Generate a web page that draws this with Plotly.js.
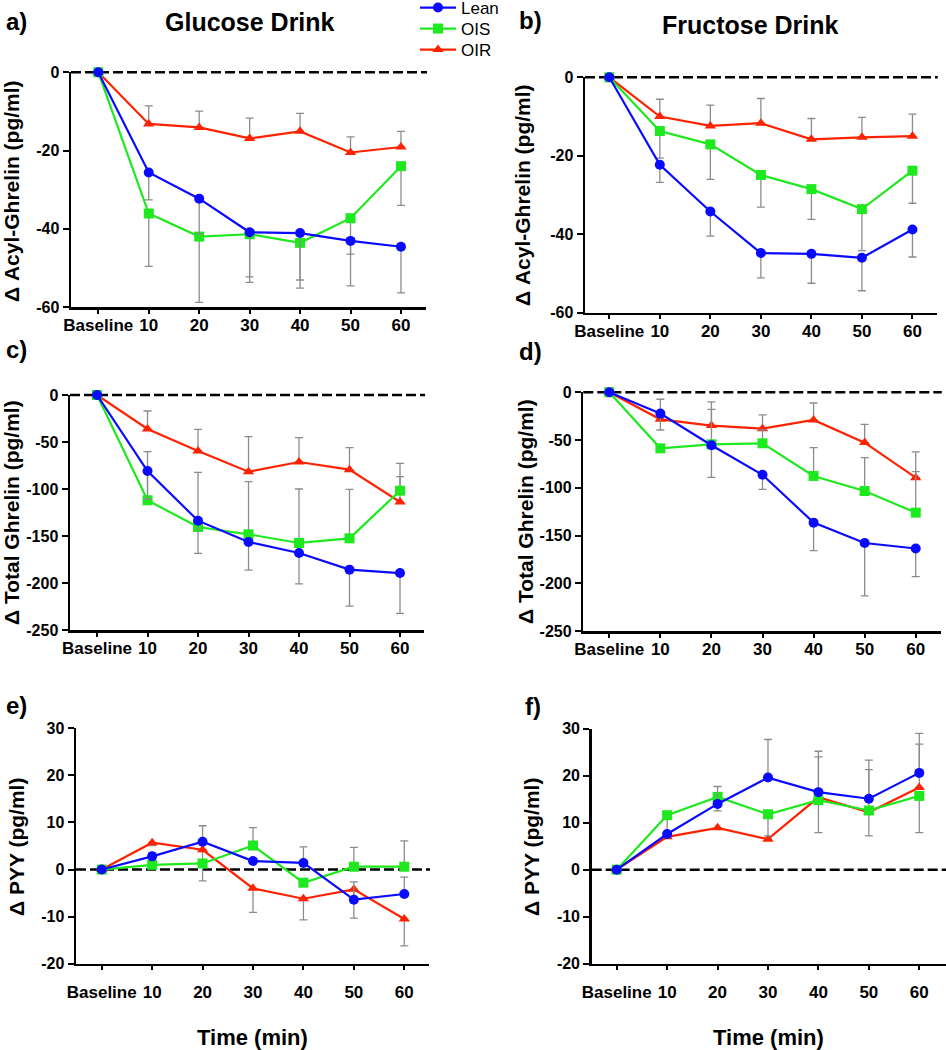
<!DOCTYPE html>
<html>
<head>
<meta charset="utf-8">
<script src="https://cdn.plot.ly/plotly-3.0.1.min.js"></script>
<style>html,body{margin:0;padding:0;background:#fff;}#chart{width:946px;height:1050px;}</style>
</head>
<body>
<div id="chart"></div>
<script>
// ---------------- DATA ----------------
const categories = ['Baseline', '10', '20', '30', '40', '50', '60'];
const seriesNames = ['Lean', 'OIS', 'OIR'];

// a) Glucose drink, delta acyl-ghrelin
const aLean = [0, -25.6, -32.3, -40.9, -41.1, -43.1, -44.6];
const aLeanUp = [0, 0, 0, 0, 0, 0, 0];
const aLeanDn = [0, 7.0, 9.0, 11.4, 12.0, 11.5, 11.8];
const aOIS = [0, -36.1, -42.0, -41.4, -43.6, -37.3, -24.0];
const aOISUp = [0, 0, 0, 0, 0, 0, 0];
const aOISDn = [0, 13.5, 16.8, 12.3, 11.6, 9.2, 10.0];
const aOIR = [0, -13.2, -14.1, -16.9, -15.1, -20.5, -19.1];
const aOIRUp = [0, 4.6, 4.2, 5.2, 4.6, 4.0, 4.0];
const aOIRDn = [0, 0, 0, 0, 0, 0, 0];

// b) Fructose drink, delta acyl-ghrelin
const bLean = [0, -22.3, -34.2, -44.8, -45.0, -46.0, -38.8];
const bLeanUp = [0, 0, 0, 0, 0, 0, 0];
const bLeanDn = [0, 4.5, 6.3, 6.3, 7.5, 8.4, 7.0];
const bOIS = [0, -13.7, -17.1, -24.9, -28.5, -33.6, -23.8];
const bOISUp = [0, 0, 0, 0, 0, 0, 0];
const bOISDn = [0, 6.9, 8.9, 8.2, 7.7, 10.6, 8.3];
const bOIR = [0, -10.0, -12.4, -11.7, -15.8, -15.3, -15.0];
const bOIRUp = [0, 4.4, 5.3, 6.3, 5.3, 5.1, 5.6];
const bOIRDn = [0, 0, 0, 0, 0, 0, 0];

// c) Glucose drink, delta total ghrelin
const cLean = [0, -80.9, -133.7, -156.4, -168.1, -185.8, -189.4];
const cLeanUp = [0, 0, 0, 0, 0, 0, 0];
const cLeanDn = [0, 30, 34.7, 29.8, 32.9, 38.7, 42.9];
const cOIS = [0, -112, -140.4, -148.2, -157.4, -152.5, -101.8];
const cOISUp = [0, 51.7, 58.1, 56, 57.4, 52.1, 14.9];
const cOISDn = [0, 0, 0, 0, 0, 0, 0];
const cOIR = [0, -36.2, -59.6, -81.6, -71.3, -79.4, -113.8];
const cOIRUp = [0, 19.2, 23.1, 37.3, 25.9, 23.4, 41.1];
const cOIRDn = [0, 0, 0, 0, 0, 0, 0];

// d) Fructose drink, delta total ghrelin
const dLean = [0, -22.3, -55.5, -86.4, -136.5, -157.8, -163.6];
const dLeanUp = [0, 0, 0, 0, 0, 0, 0];
const dLeanDn = [0, 17.2, 33.5, 15.2, 29.4, 55.5, 29.4];
const dOIS = [0, -58.7, -54.5, -53.4, -87.6, -103.4, -126];
const dOISUp = [0, 0, 36.7, 14, 29.6, 35, 42.9];
const dOISDn = [0, 0, 0, 0, 0, 0, 0];
const dOIR = [0, -28.3, -34.9, -38.1, -29, -52.7, -89.4];
const dOIRUp = [0, 21, 24.8, 14.4, 17.8, 19.2, 26.9];
const dOIRDn = [0, 0, 0, 0, 0, 0, 0];

// e) Glucose drink, delta PYY
const eLean = [0, 2.8, 5.9, 1.8, 1.4, -6.4, -5.2];
const eLeanUp = [0, 0.8, 3.4, 0, 3.4, 3.8, 3.6];
const eLeanDn = [0, 0, 0, 0, 0, 0, 0];
const eOIS = [0, 1.0, 1.3, 5.1, -2.8, 0.6, 0.6];
const eOISUp = [0, 0, 0, 3.8, 0, 4.1, 5.5];
const eOISDn = [0, 0, 0, 0, 0, 0, 0];
const eOIR = [0, 5.7, 4.2, -4.0, -6.2, -4.2, -10.5];
const eOIRUp = [0, 0, 0, 0, 0, 0, 0];
const eOIRDn = [0, 0.6, 6.6, 5.1, 4.5, 6.1, 5.7];

// f) Fructose drink, delta PYY
const fLean = [0, 7.6, 14.0, 19.6, 16.5, 15.1, 20.6];
const fLeanUp = [0, 0, 3.7, 8.1, 8.7, 8.2, 8.4];
const fLeanDn = [0, 0, 0, 0, 0, 0, 0];
const fOIS = [0, 11.6, 15.5, 11.8, 14.8, 12.6, 15.7];
const fOISUp = [0, 0, 0, 0, 0, 0, 0];
const fOISDn = [0, 3.8, 3.0, 4.6, 6.9, 5.4, 7.8];
const fOIR = [0, 7.0, 8.9, 6.5, 15.4, 12.2, 17.5];
const fOIRUp = [0, 0, 0, 0, 8.6, 9.1, 9.2];
const fOIRDn = [0, 0, 0, 0, 0, 0, 0];

// tick labels
const ghrelinAcylTicks = [-60, -40, -20, 0];
const ghrelinAcylTickText = ['-60', '-40', '-20', '0'];
const ghrelinTotalTicks = [-250, -200, -150, -100, -50, 0];
const ghrelinTotalTickText = ['-250', '-200', '-150', '-100', '-50', '0'];
const pyyTicks = [-20, -10, 0, 10, 20, 30];
const pyyTickText = ['-20', '-10', '0', '10', '20', '30'];

const drinkTitles = ['Glucose Drink', 'Fructose Drink'];
const yTitles = ['\u0394 Acyl-Ghrelin (pg/ml)', '\u0394 Total Ghrelin (pg/ml)', '\u0394 PYY (pg/ml)'];
const xTitle = 'Time (min)';
const panelLetters = ['a)', 'b)', 'c)', 'd)', 'e)', 'f)'];
const referenceValue = 0;

// ---------------- LAYOUT HELPERS ----------------
const W = 946, H = 1050;
const FONT = 'Liberation Sans, Arial, Helvetica, sans-serif';
const px = v => v / W;
const py = v => 1 - v / H;

const colors = {Lean: '#0a0aff', OIS: '#1ee81e', OIR: '#ff2200'};
const symbols = {Lean: 'circle', OIS: 'square', OIR: 'triangle-up'};
const msize = {Lean: 10, OIS: 10, OIR: 10};
const legendIds = {Lean: 'legend', OIS: 'legend2', OIR: 'legend3'};
const legendY = {Lean: 8, OIS: 29, OIR: 50};

const panels = [
  {id: 'a', vals: {Lean: [aLean, aLeanUp, aLeanDn], OIS: [aOIS, aOISUp, aOISDn], OIR: [aOIR, aOIRUp, aOIRDn]},
   dom: [71, 426, 72.3, 307], xr: [-0.541, 6.496], yr: [-60, 0], tv: ghrelinAcylTicks, tt: ghrelinAcylTickText, stand: -3},
  {id: 'b', vals: {Lean: [bLean, bLeanUp, bLeanDn], OIS: [bOIS, bOISUp, bOISDn], OIR: [bOIR, bOIRUp, bOIRDn]},
   dom: [585, 936.7, 77.3, 312.7], xr: [-0.481, 6.48], yr: [-60, 0], tv: ghrelinAcylTicks, tt: ghrelinAcylTickText, stand: -3},
  {id: 'c', vals: {Lean: [cLean, cLeanUp, cLeanDn], OIS: [cOIS, cOISUp, cOISDn], OIR: [cOIR, cOIRUp, cOIRDn]},
   dom: [70, 424, 395, 630], xr: [-0.535, 6.475], yr: [-250, 0], tv: ghrelinTotalTicks, tt: ghrelinTotalTickText, stand: -3},
  {id: 'd', vals: {Lean: [dLean, dLeanUp, dLeanDn], OIS: [dOIS, dOISUp, dOISDn], OIR: [dOIR, dOIRUp, dOIRDn]},
   dom: [583.3, 940.7, 392.3, 631], xr: [-0.509, 6.489], yr: [-250, 0], tv: ghrelinTotalTicks, tt: ghrelinTotalTickText, stand: -3},
  {id: 'e', vals: {Lean: [eLean, eLeanUp, eLeanDn], OIS: [eOIS, eOISUp, eOISDn], OIR: [eOIR, eOIRUp, eOIRDn]},
   dom: [76, 429, 728.3, 963.7], xr: [-0.51, 6.49], yr: [-20, 30], tv: pyyTicks, tt: pyyTickText, stand: 7},
  {id: 'f', vals: {Lean: [fLean, fLeanUp, fLeanDn], OIS: [fOIS, fOISUp, fOISDn], OIR: [fOIR, fOIRUp, fOIRDn]},
   dom: [591.7, 946, 728.7, 963.7], xr: [-0.496, 6.53], yr: [-20, 30], tv: pyyTicks, tt: pyyTickText, stand: 7}
];

const traces = [];
const layout = {
  width: W, height: H,
  margin: {l: 0, r: 0, t: 0, b: 0, pad: 0, autoexpand: false},
  paper_bgcolor: '#ffffff', plot_bgcolor: 'rgba(0,0,0,0)',
  font: {family: FONT, color: '#000'},
  showlegend: true,
  shapes: [], annotations: []
};
seriesNames.forEach(s => {
  layout[legendIds[s]] = {
    x: px(415), y: py(legendY[s]), xanchor: 'left', yanchor: 'middle',
    font: {family: FONT, size: 17, color: '#000'}, bgcolor: 'rgba(0,0,0,0)',
    itemwidth: 36, itemclick: false, borderwidth: 0
  };
});

panels.forEach((p, i) => {
  const n = i + 1;
  const xa = 'xaxis' + (n === 1 ? '' : n), ya = 'yaxis' + (n === 1 ? '' : n);
  const xr = 'x' + (n === 1 ? '' : n), yr = 'y' + (n === 1 ? '' : n);
  layout[xa] = {
    domain: [px(p.dom[0]), px(p.dom[1])], anchor: yr, type: 'category', range: p.xr,
    showline: true, linecolor: '#000', linewidth: 2.5, ticks: 'outside', ticklen: 4, tickwidth: 2,
    tickcolor: '#000', showgrid: false, zeroline: false, ticklabelstandoff: p.stand, automargin: false,
    tickfont: {family: FONT, size: 17, weight: 'bold', color: '#000'}, fixedrange: true
  };
  layout[ya] = {
    domain: [py(p.dom[3]), py(p.dom[2])], anchor: xr, range: p.yr,
    tickvals: p.tv, ticktext: p.tt, tickmode: 'array', automargin: false,
    showline: true, linecolor: '#000', linewidth: 2.5, ticks: 'outside', ticklen: 6, tickwidth: 2,
    tickcolor: '#000', showgrid: false, zeroline: false,
    tickfont: {family: FONT, size: 16, weight: 'bold', color: '#000'}, fixedrange: true
  };
  // dashed reference line at 0, positioned as a fraction of the y-axis domain (not clipped)
  const frac = (referenceValue - p.yr[0]) / (p.yr[1] - p.yr[0]);
  layout.shapes.push({type: 'line', xref: xr + ' domain', yref: yr + ' domain', x0: 0, x1: 1.003, y0: frac, y1: frac,
    line: {color: '#000', width: 2.6, dash: '10px,4px'}, layer: 'below'});

  ['OIR', 'OIS', 'Lean'].forEach(s => {
    const [v, up, dn] = p.vals[s];
    traces.push({
      type: 'scatter', mode: 'lines+markers', name: s, x: categories, y: v,
      xaxis: xr, yaxis: yr, cliponaxis: false, showlegend: i === 0, legend: legendIds[s],
      line: {color: colors[s], width: 2.2},
      marker: {color: colors[s], symbol: symbols[s], size: msize[s]},
      error_y: {type: 'data', symmetric: false, array: up, arrayminus: dn,
                color: '#8c8c8c', thickness: 1.3, width: 4},
      hoverinfo: 'skip'
    });
  });
});

// text annotations
const ann = (x, y, text, size, opts) => Object.assign({
  xref: 'paper', yref: 'paper', x: px(x), y: py(y), text: text, showarrow: false,
  font: {family: FONT, size: size, weight: 'bold', color: '#000'},
  xanchor: 'center', yanchor: 'middle'
}, opts || {});

layout.annotations.push(ann(250, 22, drinkTitles[0], 25));
layout.annotations.push(ann(750, 25, drinkTitles[1], 25));
[[4, 21], [517, 20], [4, 350], [517, 351], [4, 705], [523, 706]].forEach((c, k) => {
  layout.annotations.push(ann(c[0], c[1], panelLetters[k], 24, {xanchor: 'left'}));
});
[[11, 191], [522, 195], [11, 513], [525, 512], [16, 847], [531, 847]].forEach((c, k) => {
  layout.annotations.push(ann(c[0], c[1], yTitles[Math.floor(k / 2)], 21, {textangle: -90}));
});
layout.annotations.push(ann(252, 1037, xTitle, 22));
layout.annotations.push(ann(768, 1037, xTitle, 22));

Plotly.newPlot('chart', traces, layout, {staticPlot: true, displayModeBar: false});
</script>
</body>
</html>
